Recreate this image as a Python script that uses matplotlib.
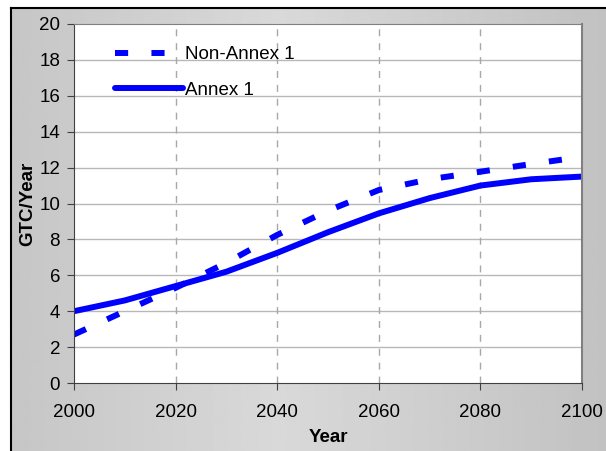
import numpy as np
import matplotlib
matplotlib.use("Agg")
import matplotlib.pyplot as plt

plt.rcParams['font.family'] = ['Liberation Sans', 'DejaVu Sans']

# donnees
years = [2000, 2010, 2020, 2030, 2040, 2050, 2060, 2070, 2080, 2090, 2100]
non_annex1 = [2.7, 4.0, 5.3, 6.7, 8.25, 9.6, 10.75, 11.35, 11.77, 12.2, 12.6]
annex1 = [4.0, 4.6, 5.4, 6.2, 7.25, 8.4, 9.45, 10.3, 11.0, 11.35, 11.5]

fig = plt.figure(figsize=(6.06, 4.51), dpi=100)

# fond gris avec degrade
bg = fig.add_axes([11 / 606, 0, 1 - 11 / 606, 1 - 8 / 451])
t = np.linspace(0, 1, 256)
grad = 0.76 + 0.09 * (1 - np.abs(t - 0.45) / 0.55)
bg.imshow(grad[None, :], aspect='auto', cmap='gray', vmin=0, vmax=1,
          extent=[0, 1, 0, 1])
bg.set_xlim(0, 1)
bg.set_ylim(0, 1)
bg.set_xticks([])
bg.set_yticks([])
for s in ['right', 'bottom']:
    bg.spines[s].set_visible(False)
bg.spines['left'].set_linewidth(1.5)
bg.spines['top'].set_linewidth(1.5)

ax = fig.add_axes([74 / 606, 68 / 451, 508 / 606, 359 / 451])
ax.set_facecolor('white')

ax.plot(years, non_annex1, color='#0000ff', lw=4.3, dashes=(2.2, 3.9),
        solid_capstyle='butt', dash_capstyle='butt', label='Non-Annex 1')
ax.plot(years, annex1, color='#0000ff', lw=4.3, solid_capstyle='round',
        label='Annex 1')

ax.set_xlim(2000, 2100)
ax.set_ylim(0, 20)
ax.set_xticks(range(2000, 2101, 20))
ax.set_yticks(range(0, 21, 2))
ax.tick_params(labelsize=13.5, direction='out', length=5, color='#404040')
ax.tick_params(axis='x', pad=10)
ax.tick_params(axis='y', pad=5)

for y in range(2, 20, 2):
    ax.axhline(y, color='#b8b8b8', lw=1, zorder=0)
for x in range(2020, 2100, 20):
    ax.axvline(x, color='#a8a8a8', lw=1, dashes=(5, 5), zorder=0)

ax.spines['left'].set_color('#404040')
ax.spines['bottom'].set_color('#404040')
ax.spines['top'].set_color('#808080')
ax.spines['right'].set_color('#808080')
ax.spines['right'].set_linewidth(1.5)

ax.set_xlabel('Year', fontsize=13.5, fontweight='bold', labelpad=6)
ax.set_ylabel('GTC/Year', fontsize=13.5, fontweight='bold', labelpad=2)

leg = ax.legend(loc='upper left', bbox_to_anchor=(0.081, 0.938), frameon=False,
                fontsize=13.5, handlelength=3.6, handletextpad=0.15,
                labelspacing=0.96, borderaxespad=0, borderpad=0)

plt.savefig('out.png', dpi=100)
